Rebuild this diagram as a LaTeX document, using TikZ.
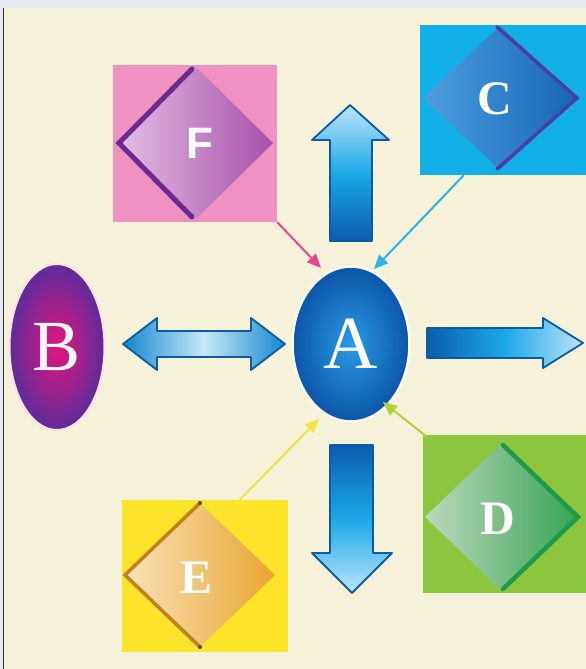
\documentclass[tikz,border=0pt]{standalone}
\usepackage{fontspec}
\setmainfont{Liberation Serif}
\newfontfamily\sanslet{Liberation Sans}
\usetikzlibrary{arrows.meta,calc,shapes.geometric}
\definecolor{cream}{HTML}{F5F2D9}
\definecolor{band}{HTML}{E8EAF2}
\definecolor{frameline}{HTML}{2E2E36}
\definecolor{pinksq}{HTML}{EF92C1}
\definecolor{cyansq}{HTML}{12AEE8}
\definecolor{greensq}{HTML}{8CC63F}
\definecolor{yellowsq}{HTML}{FBE42A}
\definecolor{Fl}{HTML}{E3BCE2}
\definecolor{Fr}{HTML}{A650AA}
\definecolor{Fdark}{HTML}{6C2A8E}
\definecolor{Cl}{HTML}{4E9EDD}
\definecolor{Cr}{HTML}{1565B8}
\definecolor{Cdark}{HTML}{4A3DA3}
\definecolor{Dl}{HTML}{BED8BC}
\definecolor{Dr}{HTML}{36A456}
\definecolor{Ddark}{HTML}{1F9A48}
\definecolor{El}{HTML}{F8E2B8}
\definecolor{Er}{HTML}{EAA530}
\definecolor{Edark}{HTML}{C47E1E}
\definecolor{Ain}{HTML}{2A9AE6}
\definecolor{Aout}{HTML}{0C55A8}
\definecolor{Bin}{HTML}{E2167E}
\definecolor{Bout}{HTML}{5C2C9A}
\definecolor{adark}{HTML}{0B5DAE}
\definecolor{amid}{HTML}{1CA8E8}
\definecolor{alight}{HTML}{BDE5FA}
\definecolor{aline}{HTML}{0F5A9C}
\definecolor{lnF}{HTML}{E8468E}
\definecolor{lnC}{HTML}{2AB4E6}
\definecolor{lnE}{HTML}{F0E44A}
\definecolor{lnD}{HTML}{B2D23C}
\tikzset{
  sqbox/.style={rectangle, inner sep=0pt, draw=none},
  conn/.style={line width=2pt, -{Triangle[length=14pt,width=12pt]}},
  bigarrow/.style={draw=aline, line width=1.8pt, line join=round},
  serifletter/.style={inner sep=0pt, text=white, font=\fontsize{48}{48}\selectfont\bfseries},
  sansletter/.style={inner sep=0pt, text=white, font=\fontsize{44}{44}\selectfont\sanslet\bfseries},
  edge/.style={line join=miter, line cap=round}
}
\begin{document}
\begin{tikzpicture}[x=1pt,y=-1pt]
\useasboundingbox (0,0) rectangle (586,669);
% background
\fill[cream] (0,0) rectangle (586,669);
\fill[band] (0,0) rectangle (586,8);
\fill[band] (0,0) rectangle (2.5,669);
\draw[frameline, line width=1.2pt] (3.5,8) -- (3.5,669);

% squares
\node[sqbox, fill=pinksq, minimum width=164pt, minimum height=157pt] (Fsq) at (195,143.5) {};
\node[sqbox, fill=cyansq, minimum width=166pt, minimum height=150pt] (Csq) at (503,100) {};
\node[sqbox, fill=greensq, minimum width=163pt, minimum height=158pt] (Dsq) at (504.5,514) {};
\node[sqbox, fill=yellowsq, minimum width=166pt, minimum height=152pt] (Esq) at (205,576) {};

% diamond centres
\coordinate (Fc) at (197,143);
\coordinate (Cc) at (500,98);
\coordinate (Dc) at (501,517);
\coordinate (Ec) at (200,575);

% F diamond
\shade[left color=Fl, right color=Fr] ($(Fc)+(-77,0)$) -- ($(Fc)+(0,-75)$) -- ($(Fc)+(76,0)$) -- ($(Fc)+(0,75)$) -- cycle;
\draw[edge, Fdark, line width=5pt] ($(Fc)+(-5,-74)$) -- ($(Fc)+(-78,0)$) -- ($(Fc)+(-5,74)$);
% C diamond
\shade[left color=Cl, right color=Cr] ($(Cc)+(-77,0)$) -- ($(Cc)+(0,-72)$) -- ($(Cc)+(77,0)$) -- ($(Cc)+(0,72)$) -- cycle;
\draw[edge, Cdark, line width=3.5pt] ($(Cc)+(-3,-71)$) -- ($(Cc)+(77,0)$) -- ($(Cc)+(-3,71)$);
% D diamond
\shade[left color=Dl, right color=Dr] ($(Dc)+(-76,0)$) -- ($(Dc)+(0,-73)$) -- ($(Dc)+(76,0)$) -- ($(Dc)+(0,73)$) -- cycle;
\draw[edge, Ddark, line width=4.5pt] ($(Dc)+(2,-72)$) -- ($(Dc)+(77,0)$) -- ($(Dc)+(2,72)$);
% E diamond
\shade[left color=El, right color=Er] ($(Ec)+(-75,0)$) -- ($(Ec)+(0,-72)$) -- ($(Ec)+(75,0)$) -- ($(Ec)+(0,72)$) -- cycle;
\draw[edge, Edark, line width=3.5pt] ($(Ec)+(0,-72)$) -- ($(Ec)+(-75,0)$) -- ($(Ec)+(0,72)$);
\fill[black!70] ($(Ec)+(0,-72)$) circle (2pt);
\fill[black!70] ($(Ec)+(0,72)$) circle (2pt);

% letters
\node[sansletter] (F) at (200,143) {F};
\node[serifletter] (C) at (495,99) {C};
\node[serifletter] (D) at (498,519) {D};
\node[serifletter] (E) at (197,578) {E};

% ellipses
\node[ellipse, minimum width=117pt, minimum height=155pt, inner sep=0pt,
      draw=white!60!cream, line width=2.5pt, shading=radial, inner color=Ain, outer color=Aout,
      text=white, font=\fontsize{75}{75}\selectfont] (A) at (351,344) {A};
\node[ellipse, minimum width=95pt, minimum height=166pt, inner sep=0pt,
      draw=white!50!pink, line width=2pt, shading=radial, inner color=Bin, outer color=Bout,
      text=white!85!pink, font=\fontsize{72}{72}\selectfont] (B) at (57,347) {B};

% big block arrows
\shadedraw[bigarrow, top color=alight, bottom color=adark, middle color=amid]
  (330,241) -- (330,140) -- (312,140) -- (350,105) -- (389,140) -- (372,140) -- (372,241) -- cycle;
\shadedraw[bigarrow, top color=adark, bottom color=alight, middle color=amid]
  (330,445) -- (373,445) -- (373,553) -- (392,553) -- (352,593) -- (312,553) -- (330,553) -- cycle;
\shadedraw[bigarrow, left color=adark, right color=alight, middle color=amid]
  (427,328) -- (543,328) -- (543,318) -- (583,343) -- (543,368) -- (543,358) -- (427,358) -- cycle;
\shadedraw[bigarrow, left color=amid!55!adark, right color=amid!55!adark, middle color=white!75!amid]
  (123,344) -- (157,318) -- (157,331) -- (251,331) -- (251,318) -- (285,344) -- (251,370) -- (251,357) -- (157,357) -- (157,370) -- cycle;

% thin connectors
\coordinate (tF) at (321,268);
\coordinate (tC) at (374,269);
\coordinate (tE) at (319,419);
\coordinate (tD) at (383,402);
\draw[conn, lnF] (Fsq.south east) -- (tF);
\draw[conn, lnC] ([xshift=44pt]Csq.south west) -- (tC);
\draw[conn, lnE] ([xshift=118pt]Esq.north west) -- (tE);
\draw[conn, lnD] ([xshift=4pt,yshift=-2pt]Dsq.north west) -- (tD);
\end{tikzpicture}
\end{document}
